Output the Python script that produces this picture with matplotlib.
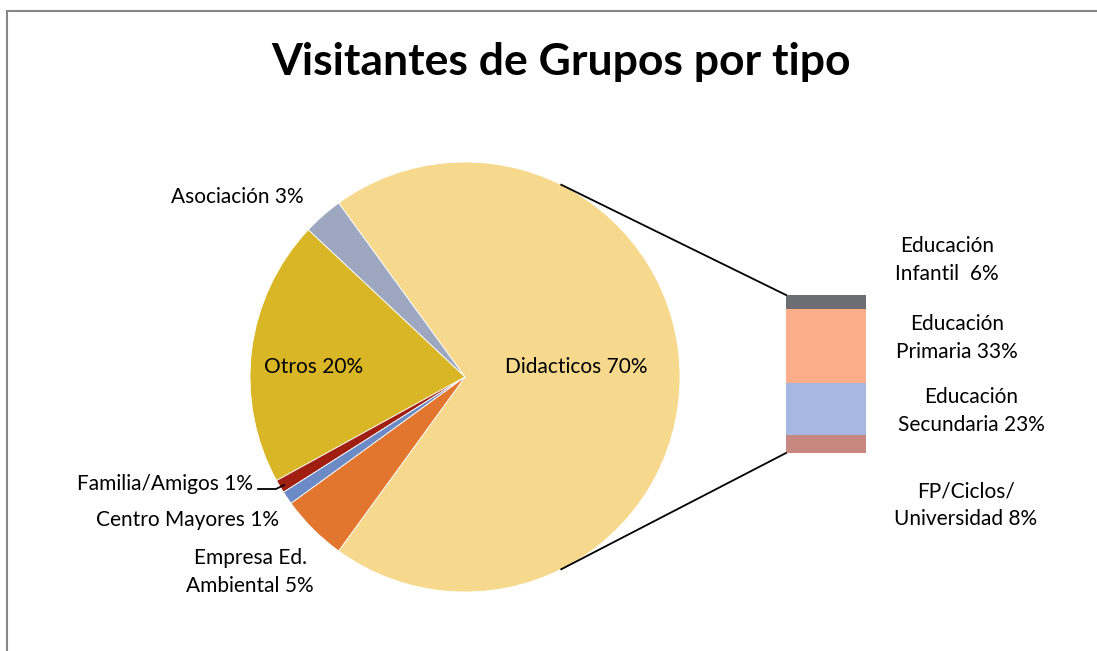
import numpy as np
import matplotlib.pyplot as plt
from matplotlib.lines import Line2D

# pie data (percent of visitors)
pie_labels = ['Didacticos 70%', 'Asociación 3%', 'Otros 20%', 'Familia/Amigos 1%',
              'Centro Mayores 1%', 'Empresa Ed.\nAmbiental 5%']
pie_values = [70, 3, 20, 1, 1, 5]
pie_colors = ['#F6D98C', '#9DA7BF', '#D9B626', '#A01F10', '#6B8AC6', '#E3762F']

# bar data: breakdown of "Didacticos"
bar_labels = ['Educación\nInfantil  6%', 'Educación\nPrimaria 33%',
              'Educación\nSecundaria 23%', 'FP/Ciclos/\nUniversidad 8%']
bar_values = [6, 33, 23, 8]
bar_colors = ['#6C6E74', '#FDAD8A', '#A6B8E2', '#C98782']

W, H = 1097, 651
plt.rcParams['font.family'] = ['Lato', 'DejaVu Sans']

fig = plt.figure(figsize=(W / 100, H / 100), dpi=100)
ax = fig.add_axes([0, 0, 1, 1])

# pie (y axis goes up, pixel units)
cx, cy, r = 465, H - 377, 215
half = pie_values[0] / 100 * 360 / 2
ax.pie(pie_values, colors=pie_colors, startangle=-half, counterclock=True,
       center=(cx, cy), radius=r, frame=True,
       wedgeprops=dict(edgecolor='white', linewidth=0.6))

# stacked bar, scaled so the whole bar is 158 px tall
bar_x, bar_w = 826, 80
bar_top = H - 295
scale = 158 / sum(bar_values)
bottom = bar_top
for v, c in zip(bar_values, bar_colors):
    bottom -= v * scale
    ax.bar(bar_x, v * scale, width=bar_w, bottom=bottom, color=c, linewidth=0)
bar_bottom = bottom

# connector lines from the pie edge to the bar corners
ang = np.radians(63.4)
ax.plot([cx + r * np.cos(ang), bar_x - bar_w / 2], [cy + r * np.sin(ang), bar_top],
        color='black', lw=1.3)
ax.plot([cx + r * np.cos(ang), bar_x - bar_w / 2], [cy - r * np.sin(ang), bar_bottom],
        color='black', lw=1.3)

# pie labels
fs = 15
pie_pos = [(576, 367), (237, 197), (314, 367), (159, 484), (187, 520), (250, 572)]
for lab, (x, y) in zip(pie_labels, pie_pos):
    if lab.startswith('Familia'):
        ax.text(253, H - y, lab, ha='right', va='center', fontsize=fs)
    else:
        ax.text(x, H - y, lab, ha='center', va='center', fontsize=fs, linespacing=1.45)
# leader line for Familia/Amigos
ax.plot([258, 276, 284], [H - 489, H - 489, H - 485], color='black', lw=1.3)

# bar labels
bar_pos = [(947, 260), (957, 338), (971, 411), (966, 505)]
for lab, (x, y) in zip(bar_labels, bar_pos):
    ax.text(x, H - y, lab, ha='center', va='center', fontsize=fs, linespacing=1.45)

ax.set_xlim(0, W)
ax.set_ylim(0, H)
ax.set_aspect('equal')
ax.axis('off')

fig.text(561 / W, 1 - 62 / H, 'Visitantes de Grupos por tipo', ha='center', va='center',
         fontsize=32, fontweight='bold')

# chart frame (only top and left edges are inside the picture)
fig.lines.append(Line2D([7 / W, 1.0], [1 - 11 / H, 1 - 11 / H], transform=fig.transFigure,
                        color='#878787', lw=1.5))
fig.lines.append(Line2D([7 / W, 7 / W], [0, 1 - 11 / H], transform=fig.transFigure,
                        color='#878787', lw=1.5))

fig.savefig('out.png', dpi=100)
